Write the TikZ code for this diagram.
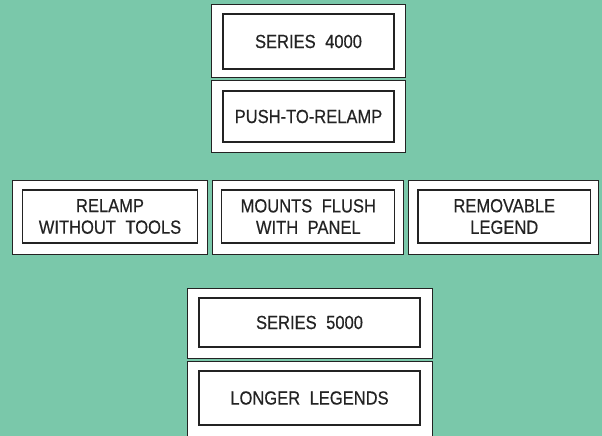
\documentclass[tikz,border=0pt]{standalone}
\usepackage{fontspec}
\setmainfont{Liberation Sans}[FakeStretch=0.87, FakeBold=0.4]
\usepackage{tikz}
\usetikzlibrary{positioning}
\definecolor{panelgreen}{RGB}{122,200,170}
\definecolor{inkgray}{RGB}{35,35,35}

\begin{document}
\begin{tikzpicture}[x=1pt, y=-1pt,
    frame/.style={draw=inkgray, line width=0.9pt, fill=white, inner sep=0pt},
    legend/.style={draw=inkgray, line width=1.1pt, fill=white, inner sep=0pt, align=center,
      text=inkgray, font=\fontsize{19}{21.5}\selectfont}
  ]
    \fill[panelgreen] (0,0) rectangle (602,436);
    \useasboundingbox (0,0) rectangle (602,436);
    % top column
    \node[frame, minimum width=194pt, minimum height=73pt] (f4k) at (308,40.5) {};
    \node[legend, minimum width=171pt, minimum height=55pt] (s4k) at (308.5,41.5) {SERIES\enspace4000};
    \node[frame, minimum width=194pt, minimum height=72pt] (fpush) at (308,116) {};
    \node[legend, minimum width=171pt, minimum height=51pt] (push) at (308.5,116.5) {PUSH-TO-RELAMP};
    % middle row
    \node[frame, minimum width=194.5pt, minimum height=74pt] (ftools) at (109.75,217) {};
    \node[legend, minimum width=175pt, minimum height=53pt] (tools) at (110,216.5) {RELAMP\\WITHOUT\enspace TOOLS};
    \node[frame, minimum width=190.5pt, minimum height=74pt] (fflush) at (307.75,217) {};
    \node[legend, minimum width=173pt, minimum height=53pt] (flush) at (308.3,216.5) {MOUNTS\enspace FLUSH\\WITH\enspace PANEL};
    \node[frame, minimum width=190pt, minimum height=74pt] (fremove) at (503,217) {};
    \node[legend, minimum width=172.7pt, minimum height=53pt] (remove) at (504.3,216.5) {REMOVABLE\\LEGEND};
    % bottom column
    \node[frame, minimum width=245pt, minimum height=70pt] (f5k) at (309.5,323) {};
    \node[legend, minimum width=221pt, minimum height=49pt] (s5k) at (309.5,322.5) {SERIES\enspace5000};
    \node[frame, minimum width=245pt, minimum height=80pt] (flong) at (309.5,401) {};
    \node[legend, minimum width=221pt, minimum height=54pt] (long) at (309.5,398) {LONGER\enspace LEGENDS};
\end{tikzpicture}
\end{document}
